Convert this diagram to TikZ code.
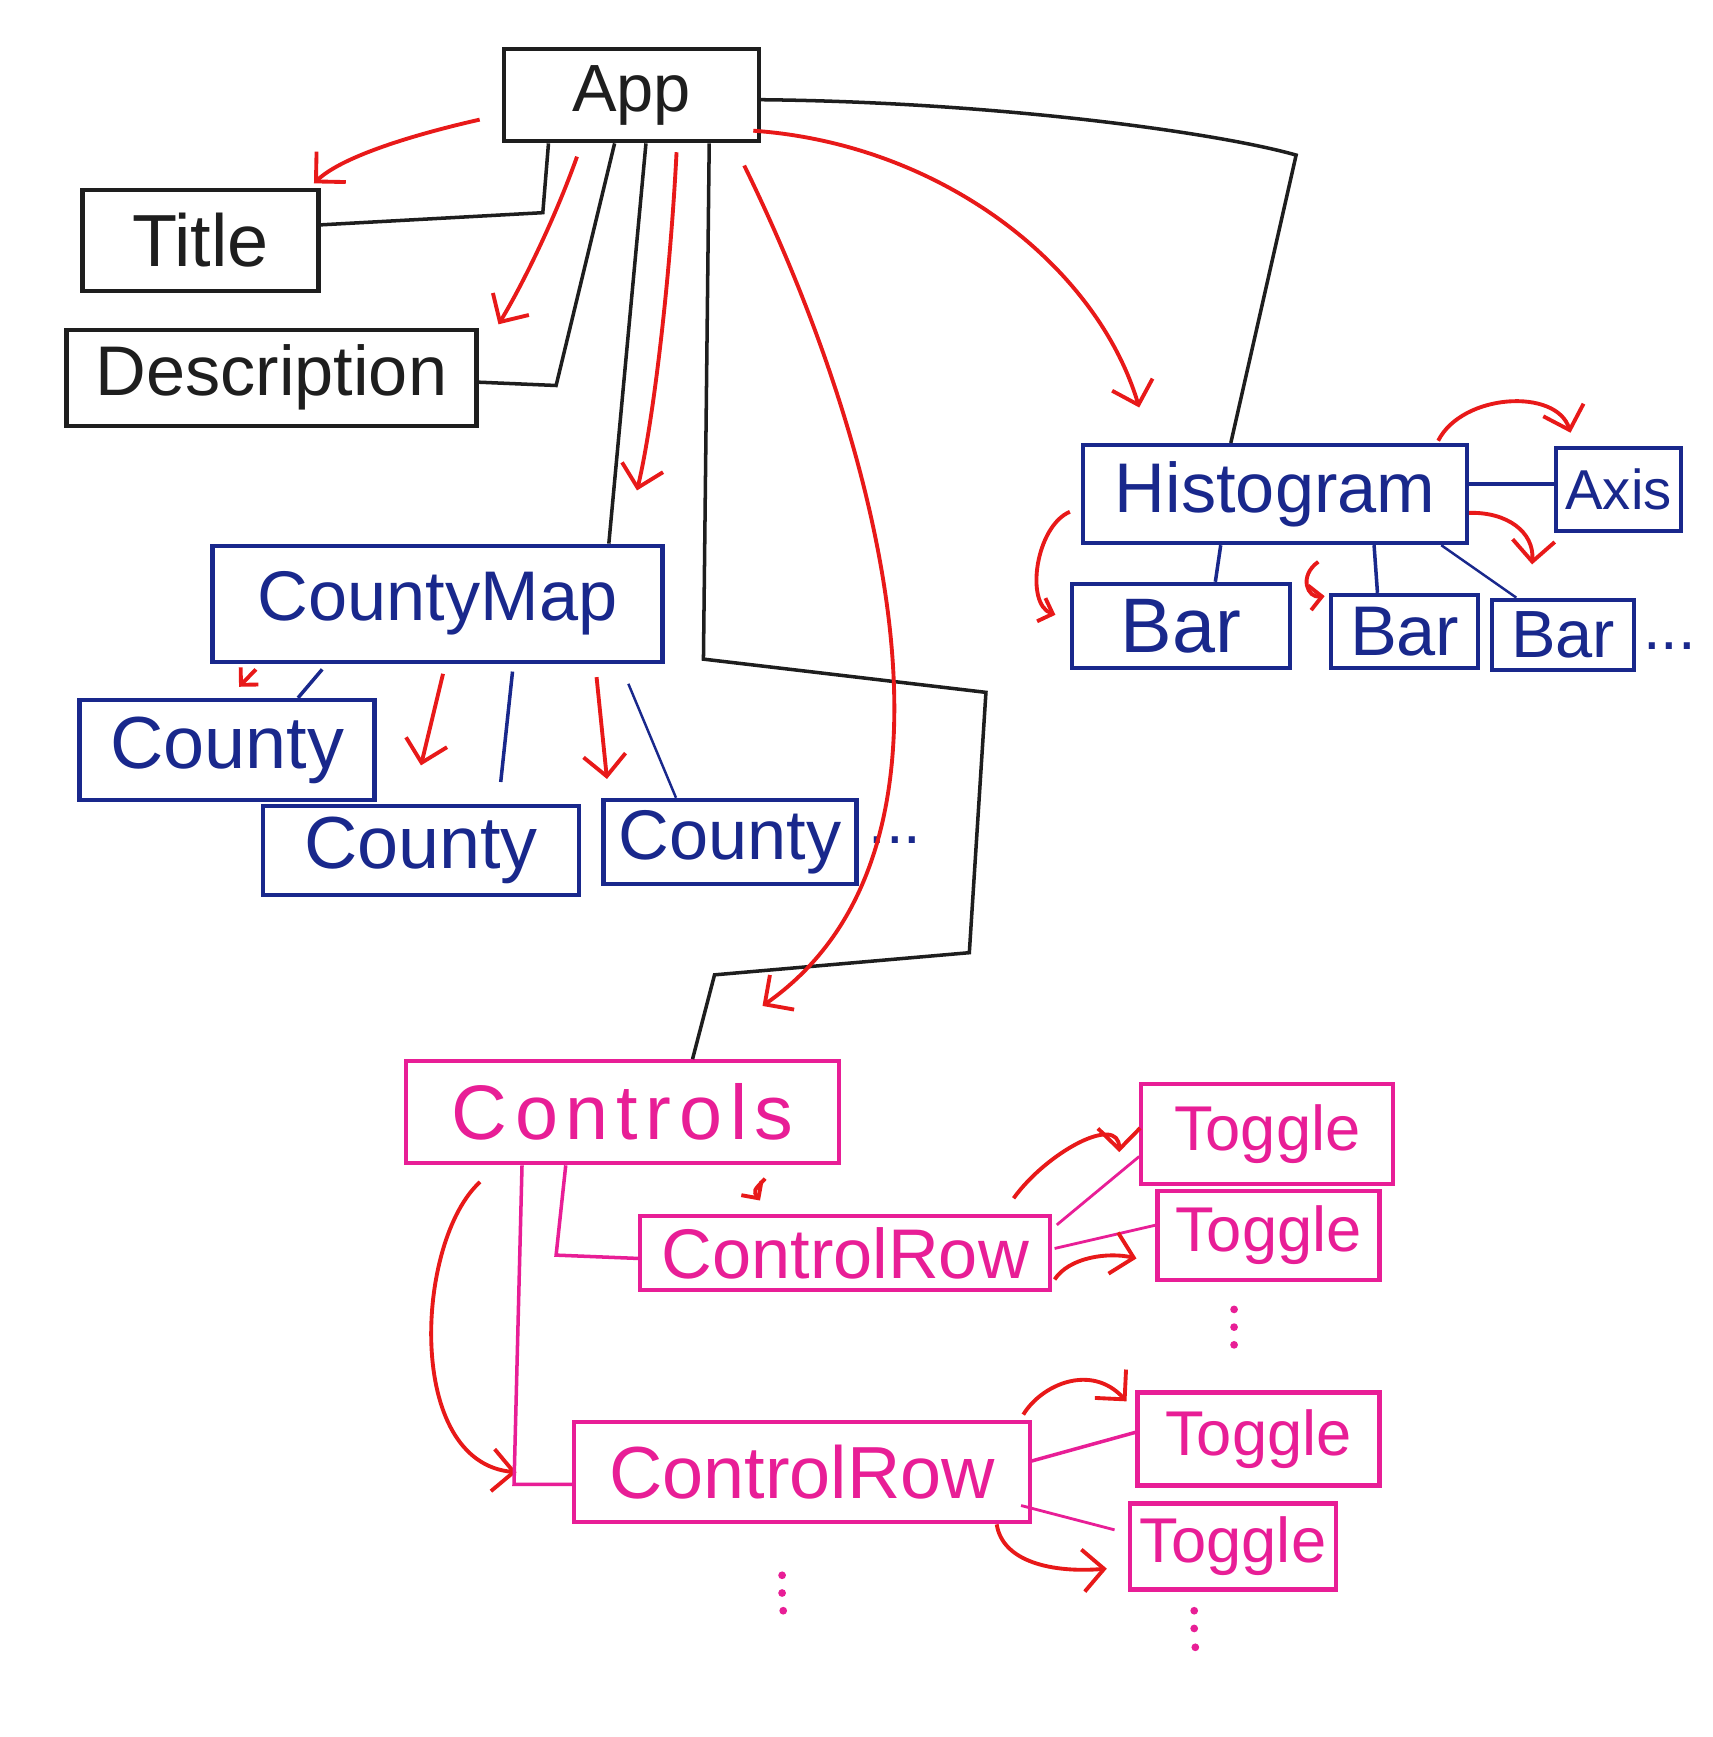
\documentclass[tikz,border=0pt]{standalone}
\usepackage{fontspec}
\setmainfont{Liberation Sans}
\usetikzlibrary{arrows.meta,calc}
\definecolor{ink}{RGB}{30,30,30}
\definecolor{navy}{RGB}{25,40,140}
\definecolor{pinkm}{RGB}{232,30,150}
\definecolor{redm}{RGB}{232,25,25}
\begin{document}
\begin{tikzpicture}[x=0.01108cm,y=-0.01108cm,
  box/.style={draw,line width=1.2pt,inner sep=0pt},
  txt/.style={font=\fontsize{#1}{#1}\selectfont},
  own/.style={line width=1pt},
  pdot/.style={circle,fill=pinkm,inner sep=0pt,minimum size=2.2pt},
  flow/.style={line width=1.1pt,draw=redm,-{Straight Barb[length=6pt,width=12pt,line width=1.1pt]}},
  flowsmall/.style={line width=1.1pt,draw=redm,-{Straight Barb[length=3.5pt,width=7pt,line width=1.1pt]}},
]
\useasboundingbox[fill=white] (0,0) rectangle (1546,1568);

% black nodes
\node[box,draw=ink,text=ink,minimum width=2.55cm,minimum height=0.92cm,txt=19] (app) at (570,86) {App};
\node[box,draw=ink,text=ink,minimum width=2.36cm,minimum height=1.01cm,txt=21] (title) at (181,217) {Title};
\node[box,draw=ink,text=ink,minimum width=4.10cm,minimum height=0.96cm,txt=20] (desc) at (245,341) {Description};

% navy nodes
\node[box,draw=navy,text=navy,minimum width=4.50cm,minimum height=1.16cm,txt=20] (cmap) at (395,545) {CountyMap};
\node[box,draw=navy,text=navy,minimum width=2.95cm,minimum height=1.00cm,txt=21] (county1) at (205,677) {County};
\node[box,draw=navy,text=navy,minimum width=3.16cm,minimum height=0.89cm,txt=21] (county2) at (380,768) {County};
\node[box,draw=navy,text=navy,minimum width=2.53cm,minimum height=0.84cm,txt=20] (county3) at (659,760) {County};
\node[text=navy,txt=18] (countydots) at (808,758) {...};
\node[box,draw=navy,text=navy,minimum width=3.84cm,minimum height=0.98cm,txt=20] (histo) at (1151,446) {Histogram};
\node[box,draw=navy,text=navy,minimum width=1.25cm,minimum height=0.83cm,txt=16] (axis) at (1461,442) {Axis};
\node[box,draw=navy,text=navy,minimum width=2.18cm,minimum height=0.84cm,txt=22] (bar1) at (1066,565) {Bar};
\node[box,draw=navy,text=navy,minimum width=1.47cm,minimum height=0.73cm,txt=20] (bar2) at (1268,570) {Bar};
\node[box,draw=navy,text=navy,minimum width=1.42cm,minimum height=0.70cm,txt=19] (bar3) at (1411,573) {Bar};
\node[text=navy,txt=18] (bardots) at (1507,583) {...};

% pink nodes
\node[box,draw=pinkm,text=pinkm,minimum width=4.33cm,minimum height=1.02cm,font=\fontsize{22}{22}\selectfont\addfontfeature{LetterSpace=10}] (controls) at (562,1004) {Controls};
\node[box,draw=pinkm,text=pinkm,minimum width=4.10cm,minimum height=0.74cm,txt=20] (crow1) at (763,1131) {ControlRow};
\node[box,draw=pinkm,text=pinkm,minimum width=4.56cm,minimum height=1.00cm,txt=21] (crow2) at (724,1329) {ControlRow};
\node[box,draw=pinkm,text=pinkm,minimum width=2.52cm,minimum height=1.00cm,txt=18] (tog1) at (1144,1024) {Toggle};
\node[box,draw=pinkm,text=pinkm,minimum width=2.22cm,minimum height=0.89cm,txt=18] (tog2) at (1145,1115) {Toggle};
\node[box,draw=pinkm,text=pinkm,minimum width=2.42cm,minimum height=0.93cm,txt=18] (tog3) at (1136,1299) {Toggle};
\node[box,draw=pinkm,text=pinkm,minimum width=2.06cm,minimum height=0.86cm,txt=18] (tog4) at (1113,1396) {Toggle};

% vertical continuation dots
\node[pdot] (vd1a) at (1114,1182) {};
\node[pdot] (vd1b) at (1114,1198) {};
\node[pdot] (vd1c) at (1114,1214) {};
\node[pdot] (vd2a) at (706,1422) {};
\node[pdot] (vd2b) at (706,1438) {};
\node[pdot] (vd2c) at (707,1454) {};
\node[pdot] (vd3a) at (1078,1454) {};
\node[pdot] (vd3b) at (1078,1470) {};
\node[pdot] (vd3c) at (1079,1487) {};

% black ownership lines from App
\draw[own,ink] ($(app.south west)!0.18!(app.south east)$) -- (490,192) -- (title.east |- 0,203);
\draw[own,ink] ($(app.south west)!0.435!(app.south east)$) -- (502,348) -- (desc.east |- 0,345);
\draw[own,ink] ($(app.south west)!0.556!(app.south east)$) -- ($(cmap.north west)!0.877!(cmap.north east)$);
\draw[own,ink] ($(app.south west)!0.80!(app.south east)$) -- (635,595) -- (890,625) -- (875,860) -- (645,880) -- ($(controls.north west)!0.66!(controls.north east)$);
\draw[own,ink] ($(app.east)+(-2,4)$) .. controls (900,92) and (1100,120) .. (1170,140) -- ($(histo.north west)!0.386!(histo.north east)$);

% red flows from App
\draw[flow] ($(app.west)+(-20,22)$) .. controls (380,120) and (310,140) .. ($(title.north east)+(-6,-4)$);
\draw[flow] ($(app.south west)!0.29!(app.south east)+(0,12)$) .. controls (500,200) and (470,260) .. ($(desc.north east)+(18,-3)$);
\draw[flow] ($(app.south west)!0.674!(app.south east)+(0,8)$) .. controls (605,250) and (590,380) .. ($(cmap.north east)+(-25,-48)$);
\draw[flow] ($(app.south west)!0.935!(app.south east)+(0,20)$) .. controls (785,380) and (900,760) .. ($(controls.north west)!0.82!(controls.north east)+(0,-48)$);
\draw[flow] ($(app.east)+(-7,32)$) .. controls (850,130) and (990,240) .. ($(histo.north west)!0.15!(histo.north east)+(0,-32)$);

% Histogram children
\draw[flow] ($(histo.north east)+(-28,-2)$) .. controls (1320,355) and (1405,350) .. ($(axis.north west)+(15,-12)$);
\draw[own,navy] (histo.east |- 0,437) -- (axis.west |- 0,437);
\draw[flowsmall] ($(histo.west)+(-10,16)$) .. controls (935,475) and (925,545) .. ($(bar1.west)+(-13,-10)$);
\draw[own,navy] ($(histo.south west)!0.36!(histo.south east)$) -- ($(bar1.north west)!0.655!(bar1.north east)$);
\draw[flowsmall] ($(histo.south)+(39,15)$) .. controls (1172,520) and (1180,540) .. ($(bar2.north west)+(-4,3)$);
\draw[own,navy] ($(histo.south west)!0.755!(histo.south east)$) -- ($(bar2.north west)!0.32!(bar2.north east)$);
\draw[flow] ($(histo.east)+(0,17)$) .. controls (1360,462) and (1385,480) .. ($(bar3.north west)+(38,-30)$);
\draw[own,navy,line width=0.7pt] ($(histo.south west)!0.928!(histo.south east)$) -- ($(bar3.north west)!0.18!(bar3.north east)$);

% CountyMap children
\draw[flowsmall] ($(cmap.south west)!0.1!(cmap.south east)+(0,5)$) -- ($(county1.north west)!0.54!(county1.north east)+(0,-10)$);
\draw[own,navy] ($(cmap.south west)!0.246!(cmap.south east)+(0,5)$) -- ($(county1.north west)!0.737!(county1.north east)$);
\draw[flow] ($(cmap.south west)!0.512!(cmap.south east)+(0,9)$) -- ($(county2.north)+(0,-35)$);
\draw[own,navy] ($(cmap.south west)!0.665!(cmap.south east)+(0,7)$) -- ($(county2.north)+(72,-20)$);
\draw[flow] ($(cmap.south west)!0.85!(cmap.south east)+(0,12)$) -- ($(county3.north west)+(5,-17)$);
\draw[own,navy,line width=0.7pt] ($(cmap.south west)!0.92!(cmap.south east)+(0,18)$) -- ($(county3.north west)!0.29!(county3.north east)$);

% Controls children
\draw[flow] ($(controls.south west)!0.174!(controls.south east)+(0,15)$) .. controls (375,1120) and (365,1320) .. ($(crow2.west)+(-50,0)$);
\draw[own,pinkm] ($(controls.south west)!0.27!(controls.south east)$) -- (464,1340) -- (crow2.west |- 0,1340);
\draw[own,pinkm] ($(controls.south west)!0.37!(controls.south east)$) -- (502,1133) -- (crow1.west |- 0,1136);
\draw[flowsmall] ($(controls.south west)!0.826!(controls.south east)+(0,12)$) .. controls (680,1075) .. ($(crow1.north west)+(110,-12)$);

% ControlRow 1 -> Toggles
\draw[flow] ($(crow1.north east)+(-35,-14)$) .. controls (945,1040) and (1010,1005) .. ($(tog1.west)+(-18,16)$);
\draw[own,pinkm,line width=0.8pt] ($(crow1.north east)+(4,10)$) -- ($(tog1.west)+(0,20)$);
\draw[own,pinkm,line width=0.8pt] ($(crow1.east)+(2,-4)$) -- ($(tog2.west)+(0,-9)$);
\draw[flow] ($(crow1.east)+(2,24)$) .. controls (965,1135) and (1000,1130) .. ($(tog2.west)+(-17,21)$);

% ControlRow 2 -> Toggles
\draw[flow] ($(crow2.north east)+(-8,-5)$) .. controls (940,1250) and (985,1230) .. ($(tog3.west)+(-8,-34)$);
\draw[own,pinkm] ($(crow2.east)+(-1,-10)$) -- ($(tog3.west)+(0,-6)$);
\draw[own,pinkm,line width=0.8pt] ($(crow2.south east)+(-10,-17)$) -- ($(tog4.west)+(-12,-15)$);
\draw[flow] ($(crow2.south east)+(-32,0)$) .. controls (905,1410) and (950,1420) .. ($(tog4.west)+(-19,20)$);
\end{tikzpicture}
\end{document}
